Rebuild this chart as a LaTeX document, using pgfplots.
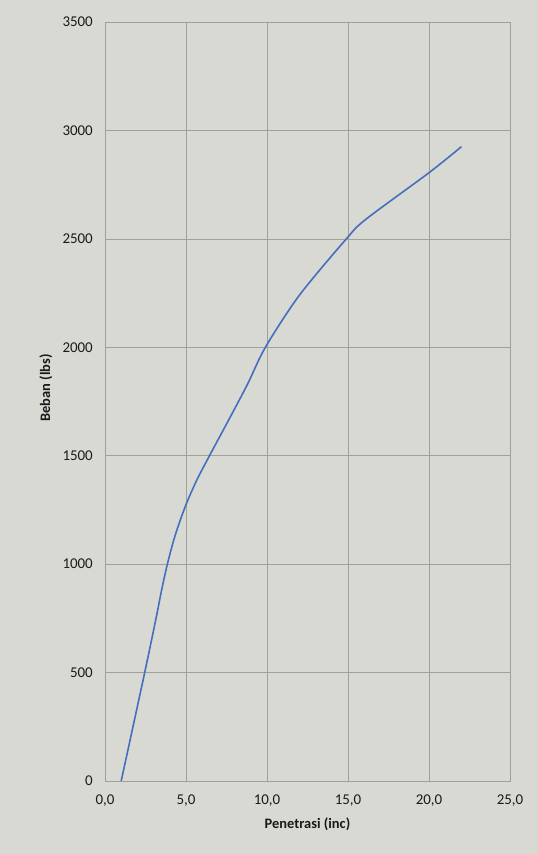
\documentclass[border=0pt]{standalone}
\usepackage{pgfplots}
\pgfplotsset{compat=1.18}
\usepackage{fontspec}
\setmainfont{Carlito}
\definecolor{bgc}{RGB}{217,217,212}
\definecolor{gridc}{RGB}{160,160,155}
\definecolor{linec}{RGB}{68,110,190}
\begin{document}
\begin{tikzpicture}
\fill[bgc] (0,0) rectangle (538bp,854bp);
\begin{axis}[
  at={(105bp,73bp)}, anchor=south west,
  scale only axis, width=405bp, height=759bp,
  xmin=0, xmax=25, ymin=0, ymax=3500,
  xtick={0,5,...,25}, ytick={0,500,...,3500},
  grid=major,
  major grid style={gridc, line width=0.5bp},
  axis line style={gridc, line width=0.5bp},
  major tick length=0pt,
  /pgf/number format/assume math mode=true,
  /pgf/number format/1000 sep={},
  xticklabel={\pgfmathprintnumber[fixed,fixed zerofill,precision=1,use comma]{\tick}},
  tick label style={font=\fontsize{15}{17}\selectfont, text=black!90},
  yticklabel style={anchor=east, inner sep=0pt, xshift=-12bp},
  xticklabel style={anchor=north, inner sep=0pt, yshift=-14bp},
  xlabel={\bfseries Penetrasi (inc)},
  ylabel={\bfseries Beban (lbs)},
  label style={font=\fontsize{14.5}{16}\selectfont, text=black!90},
  xlabel style={at={(axis description cs:0.5,-0.057)}, anchor=center},
  ylabel style={at={(axis description cs:-0.146,0.518)}, anchor=center},
]
\addplot[linec, line width=1.6bp, smooth, tension=0.5] coordinates {
(1.0,0) (2.45,500) (3.15,750) (3.48,875) (3.85,1000) (4.32,1130) (4.95,1265) (5.65,1385) (6.45,1500) (7.6,1660)
(8.8,1830) (9.9,2000) (12.0,2240) (14.9,2500) (16.1,2590) (20.0,2805) (22.0,2925)
};
\end{axis}
\end{tikzpicture}
\end{document}
